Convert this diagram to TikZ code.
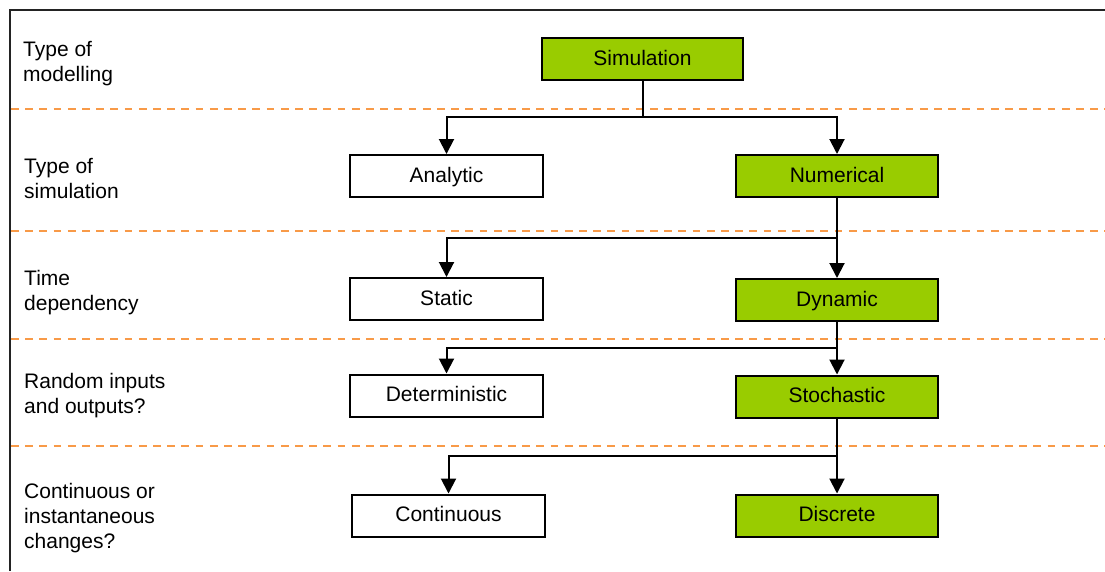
\documentclass[tikz,border=0pt]{standalone}
\usepackage{fontspec}
\setmainfont{Liberation Sans}
\usetikzlibrary{arrows.meta}

\definecolor{leaf}{RGB}{153,204,0}
\definecolor{rowline}{RGB}{248,154,72}
\definecolor{framegray}{RGB}{35,35,35}

\begin{document}
\begin{tikzpicture}[x=1pt,y=-1pt,
  every node/.style={font=\fontsize{21}{25}\selectfont},
  box/.style={draw=black,line width=2pt,minimum height=42pt,inner sep=0pt,
              text height=15.5pt,text depth=3pt},
  plainbox/.style={box,fill=white,minimum width=193pt},
  pickbox/.style={box,fill=leaf,minimum width=202pt},
  level/.style={anchor=base west,align=left,inner sep=0pt},
  rowsep/.style={rowline,line width=2pt,dash pattern=on 7.7pt off 6.5pt},
  wire/.style={line width=2pt,line join=miter},
  link/.style={wire,-{Triangle[length=15pt,width=15pt]}},
]
\useasboundingbox (0,0) rectangle (1105,571);

% outer frame (top and left edges)
\draw[framegray,line width=2.5pt] (10,571) -- (10,10) -- (1105,10);

% row separators
\foreach \yy in {109,231,339,446}
  \draw[rowsep] (11,\yy) -- (1105,\yy);

% row headings (anchored on the baseline of their last line)
\node[level] (h1) at (23,81)    {Type of\\modelling};
\node[level] (h2) at (24,198.5) {Type of\\simulation};
\node[level] (h3) at (24,310)   {Time\\dependency};
\node[level] (h4) at (24,413)   {Random inputs\\and outputs?};
\node[level] (h5) at (24,548)   {Continuous or\\instantaneous\\changes?};

% decision boxes
\node[pickbox,minimum width=201pt] (sim) at (642.5,59) {Simulation};
\node[plainbox] (ana) at (446.5,176)   {Analytic};
\node[pickbox]  (num) at (837,176)     {Numerical};
\node[plainbox] (sta) at (446.5,299)   {Static};
\node[pickbox]  (dyn) at (837,300)     {Dynamic};
\node[plainbox] (det) at (446.5,395.5) {Deterministic};
\node[pickbox]  (sto) at (837,396.5)   {Stochastic};
\node[plainbox] (con) at (448.5,515.5) {Continuous};
\node[pickbox]  (dis) at (837,515.5)   {Discrete};

% branching points
\coordinate (j1) at (642.5,117);
\coordinate (j2) at (837,237.5);
\coordinate (j3) at (837,348);
\coordinate (j4) at (837,456);

% connectors
\draw[wire] (sim.south) -- (j1);
\draw[link] (j1) -| (ana.north);
\draw[link] (j1) -| (num.north);
\draw[link] (num.south) -- (dyn.north);
\draw[link] (j2) -| (sta.north);
\draw[link] (dyn.south) -- (sto.north);
\draw[link] (j3) -| (det.north);
\draw[link] (sto.south) -- (dis.north);
\draw[link] (j4) -| (con.north);
\end{tikzpicture}
\end{document}
